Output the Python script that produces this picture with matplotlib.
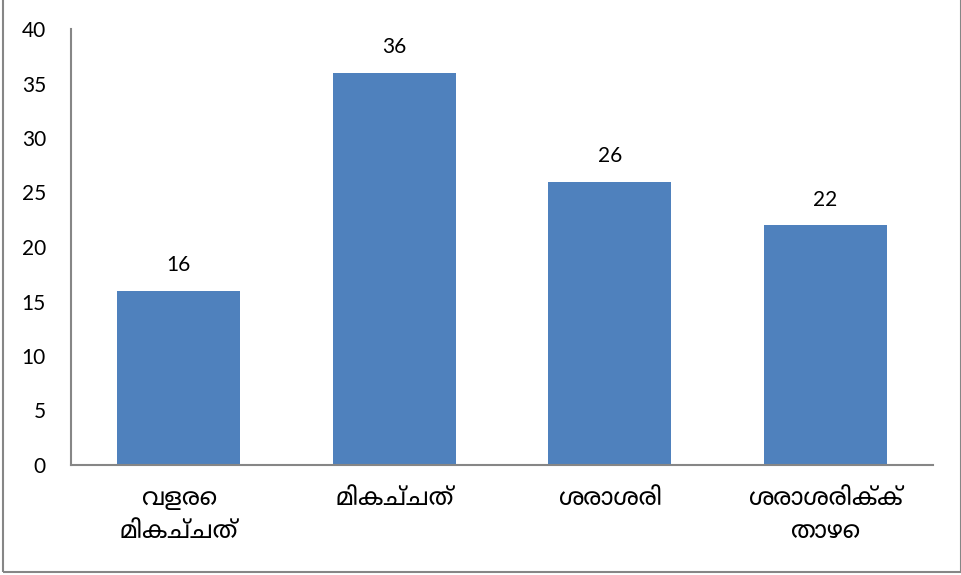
import matplotlib
matplotlib.use("Agg")
import matplotlib.pyplot as plt
from matplotlib import font_manager
from matplotlib.patches import Rectangle
from matplotlib.ft2font import FT2Font

categories = ["വളരെ\nമികച്ചത്", "മികച്ചത്", "ശരാശരി", "ശരാശരിക്ക്\nതാഴെ"]
values = [16, 36, 26, 22]
yticks = [0, 5, 10, 15, 20, 25, 30, 35, 40]

# find a font that covers Malayalam
found = []
for path in font_manager.findSystemFonts():
    try:
        f = FT2Font(path)
        if f.get_char_index(0x0D2E):
            found.append(font_manager.FontProperties(fname=path).get_name())
    except Exception:
        pass
preferred = ["Noto Sans Malayalam", "Noto Sans Malayalam UI", "Meera", "Manjari", "Rachana"]
ml_family = None
for p in preferred:
    if p in found:
        ml_family = p
        break
if ml_family is None:
    others = [n for n in found if "Unifont" not in n]
    ml_family = others[0] if others else (found[0] if found else None)
label_families = ([ml_family] if ml_family else []) + ["DejaVu Sans"]

fig = plt.figure(figsize=(9.62, 5.75), dpi=100)
ax = fig.add_axes([71/962, 1-465/575, (933-71)/962, (465-29)/575])

x = list(range(len(categories)))
ax.bar(x, values, width=0.57, color="#4F81BD", zorder=2)
ax.set_xlim(-0.5, 3.5)
ax.set_ylim(0, 40)
ax.set_yticks(yticks)
ax.set_yticklabels([str(t) for t in yticks], fontsize=15, family="Lato")
ax.set_xticks(x)
ax.set_xticklabels(categories, fontsize=17.5, family=label_families, linespacing=1.5)
ax.tick_params(axis="both", length=0)
ax.tick_params(axis="y", pad=18)
ax.tick_params(axis="x", pad=16)
for s in ["top", "right"]:
    ax.spines[s].set_visible(False)
for s in ["left", "bottom"]:
    ax.spines[s].set_color("#868686")
    ax.spines[s].set_linewidth(1.5)

for xi, v in zip(x, values):
    ax.annotate(str(v), (xi, v), xytext=(0, 11), textcoords="offset points",
                ha="center", va="bottom", fontsize=15, family="Lato")

fig.patches.append(Rectangle((3/962, 3/575), 958/962, 1.2, transform=fig.transFigure,
                             fill=False, edgecolor="#868686", linewidth=1.5))
fig.savefig("out.png", dpi=100)
